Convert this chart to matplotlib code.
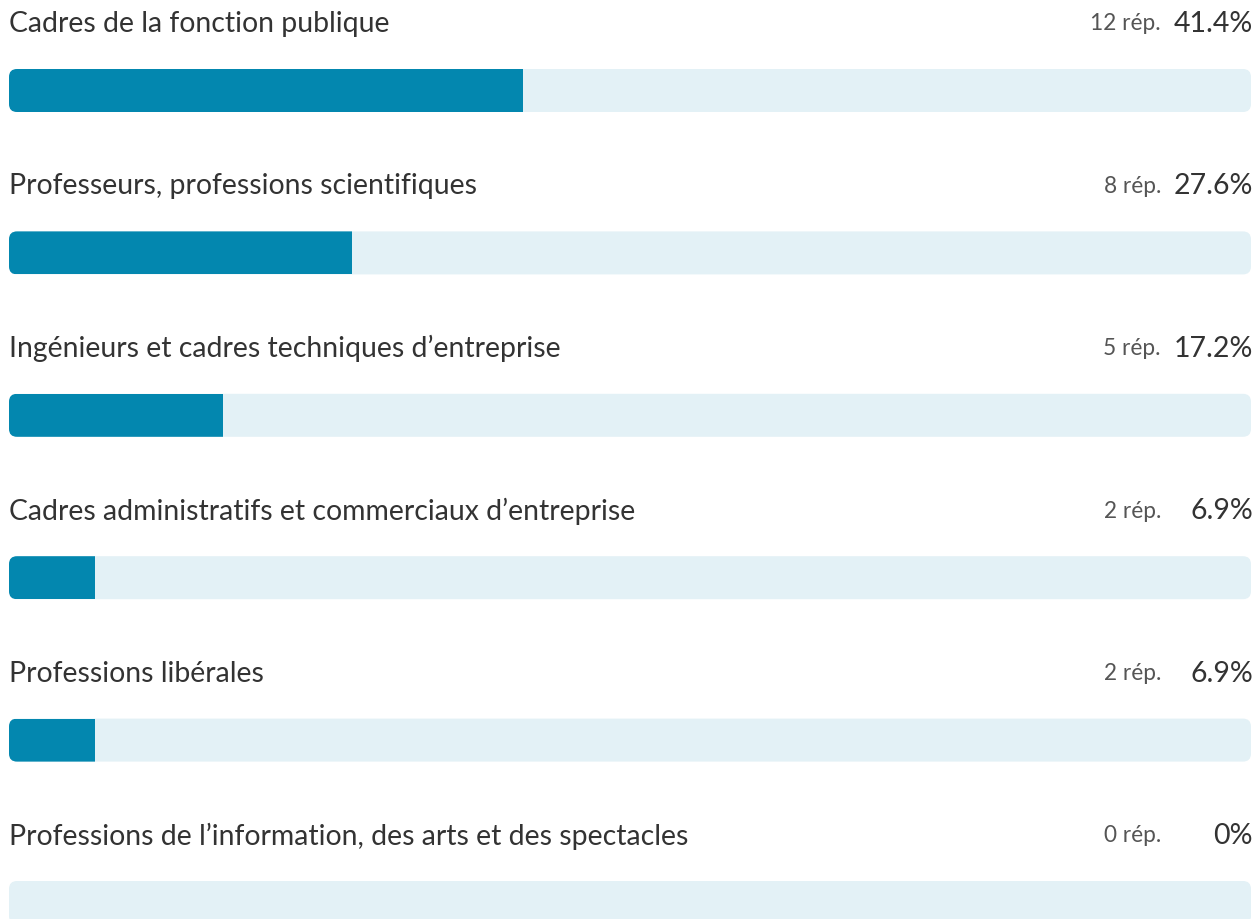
import matplotlib
matplotlib.use("Agg")
import matplotlib.pyplot as plt
from matplotlib.patches import FancyBboxPatch, Rectangle

categories = [
    "Cadres de la fonction publique",
    "Professeurs, professions scientifiques",
    "Ingénieurs et cadres techniques d\u2019entreprise",
    "Cadres administratifs et commerciaux d\u2019entreprise",
    "Professions libérales",
    "Professions de l\u2019information, des arts et des spectacles",
]
counts = [12, 8, 5, 2, 2, 0]
percents = [41.4, 27.6, 17.2, 6.9, 6.9, 0.0]
pct_labels = ["41.4%", "27.6%", "17.2%", "6.9%", "6.9%", "0%"]

W, H = 1259, 919
fig = plt.figure(figsize=(W / 100, H / 100), dpi=100)
ax = fig.add_axes([0, 0, 1, 1])
ax.set_xlim(0, W)
ax.set_ylim(H, 0)
ax.axis("off")

FONT = "Lato"
x0, x1 = 9, 1251
bar_w = x1 - x0
bar_h = 43
pitch = 162.4
first_bar_top = 69
label_offset = 45
fill_col = "#0387AF"
bg_col = "#E3F1F6"
text_col = "#333333"
grey_col = "#555555"

for i, (cat, n, p, pl) in enumerate(zip(categories, counts, percents, pct_labels)):
    top = first_bar_top + i * pitch
    bg = FancyBboxPatch((x0, top), bar_w, bar_h,
                        boxstyle="round,pad=0,rounding_size=8",
                        facecolor=bg_col, edgecolor="none")
    ax.add_patch(bg)
    if p > 0:
        fw = bar_w * p / 100.0
        fg = FancyBboxPatch((x0, top), bar_w, bar_h,
                            boxstyle="round,pad=0,rounding_size=8",
                            facecolor=fill_col, edgecolor="none")
        ax.add_patch(fg)
        clip = Rectangle((x0, top), fw, bar_h, transform=ax.transData)
        fg.set_clip_path(clip)
    ty = top - label_offset
    ax.text(x0, ty, cat, fontsize=20.4, family=FONT, color=text_col,
            ha="left", va="center")
    ax.text(1253, ty, pl, fontsize=20.5, family=FONT, color=text_col,
            ha="right", va="center")
    ax.text(1161, ty, f"{n} rép.", fontsize=16.3, family=FONT, color=grey_col,
            ha="right", va="center")

fig.savefig("out.png", dpi=100)
